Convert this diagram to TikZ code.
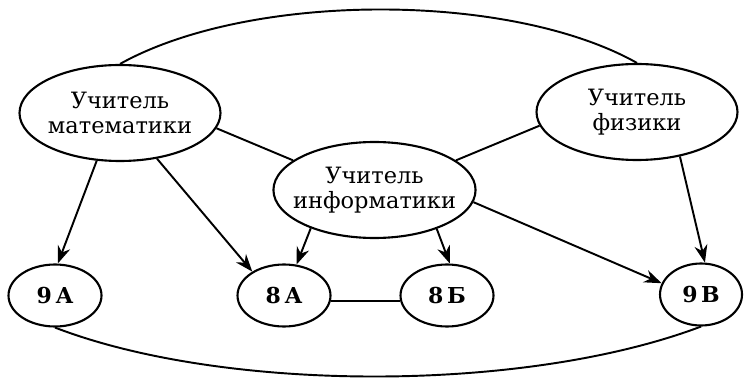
\documentclass[tikz,border=0pt]{standalone}
\usepackage{fontspec}
\setmainfont{DejaVu Serif}
\usetikzlibrary{shapes.geometric,arrows.meta}

\tikzset{
  teacher/.style={ellipse,draw,line width=1.2pt,inner ysep=0pt,inner xsep=-2mm,
    minimum width=4.02cm,minimum height=1.92cm,align=center,
    font=\fontsize{12.8}{14.4}\selectfont},
  grade/.style={ellipse,draw,line width=1.2pt,inner sep=0pt,
    minimum width=1.86cm,minimum height=1.24cm,
    font=\bfseries\fontsize{12.5}{14}\selectfont},
  arr/.style={-{Stealth[length=3.5mm,width=2.6mm]}}
}

\begin{document}
\begin{tikzpicture}[line width=1.1pt]
  \useasboundingbox (0,0) rectangle (14.96,7.56);

  % teachers
  \node[teacher] (math) at (2.40,5.30) {Учитель\\математики};
  \node[teacher] (phys) at (12.74,5.32) {Учитель\\физики};
  \node[teacher] (info) at (7.49,3.76) {Учитель\\информатики};

  % classes
  \node[grade] (c9a) at (1.10,1.65) {9\,А};
  \node[grade] (c8a) at (5.68,1.65) {8\,А};
  \node[grade] (c8b) at (8.94,1.65) {8\,Б};
  \node[grade,minimum width=1.64cm] (c9v) at (14.02,1.67) {9\,В};

  \draw (math.north) .. controls (5.0,7.73) and (10.2,7.73) .. (phys.north);
  \draw (c9a.south) .. controls (4.5,-0.30) and (10.5,-0.30) .. (c9v.south);

  \draw (math.351) -- (info.160);
  \draw (phys.188) -- (info.20);
  \draw (c8a.-7) -- (c8b.187);

  \draw[arr] (math.244) -- (c9a.85);
  \draw[arr] (math.309) -- (c8a.143);
  \draw[arr] (phys.314) -- (c9v.83);
  \draw[arr] (info.211) -- (c8a.68);
  \draw[arr] (info.328) -- (c8b.85);
  \draw[arr] (info.353) -- (c9v.164);
\end{tikzpicture}
\end{document}
